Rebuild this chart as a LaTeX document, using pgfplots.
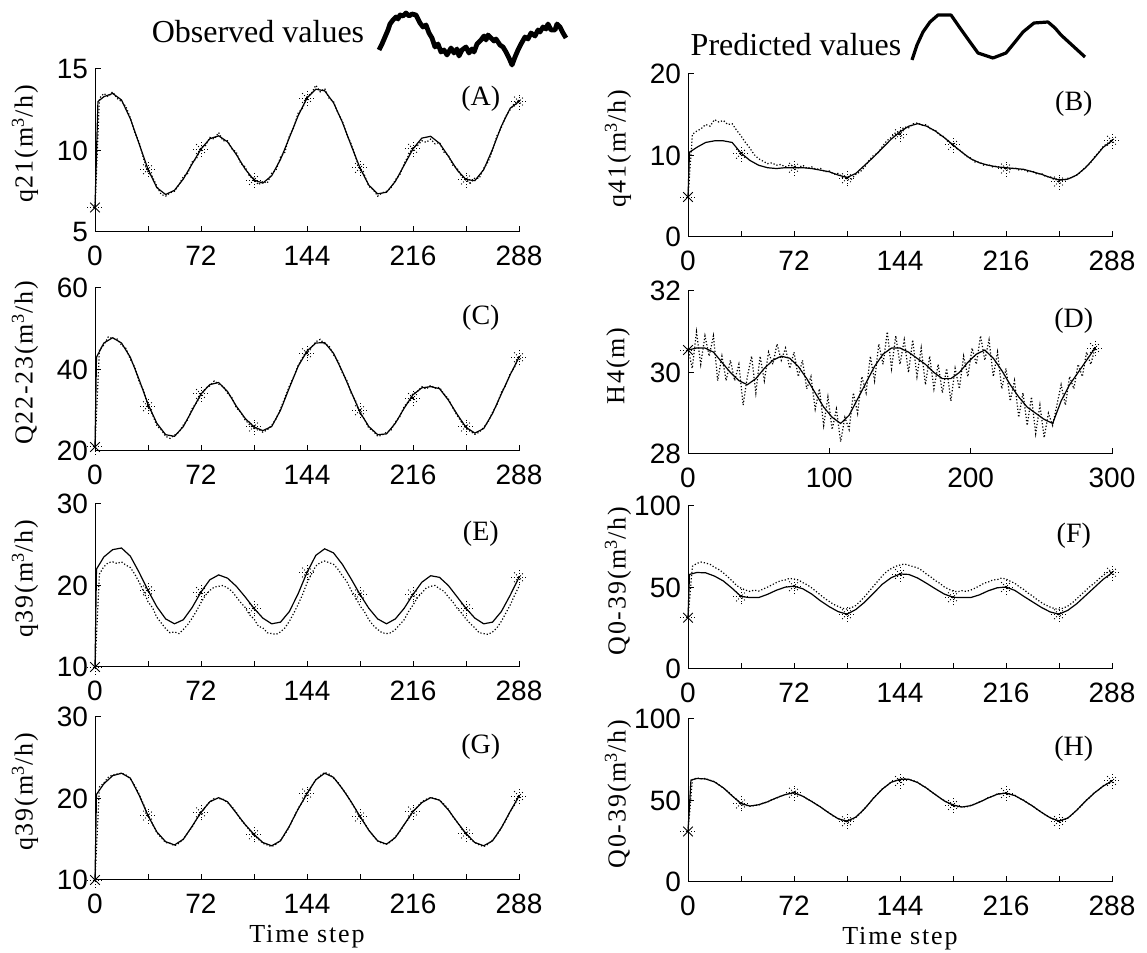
\documentclass[border=0pt]{standalone}
\usepackage{fontspec}
\setmainfont{Liberation Serif}
\setsansfont{Liberation Sans}
\newfontfamily\spacedserif[LetterSpace=7]{Liberation Serif}
\usepackage{pgfplots}
\pgfplotsset{compat=1.18}

% MATLAB-like asterisk: solid x plus dotted +
\pgfdeclareplotmark{mstar}{%
  \pgfpathmoveto{\pgfpoint{-0.6\pgfplotmarksize}{-0.6\pgfplotmarksize}}%
  \pgfpathlineto{\pgfpoint{0.6\pgfplotmarksize}{0.6\pgfplotmarksize}}%
  \pgfpathmoveto{\pgfpoint{-0.6\pgfplotmarksize}{0.6\pgfplotmarksize}}%
  \pgfpathlineto{\pgfpoint{0.6\pgfplotmarksize}{-0.6\pgfplotmarksize}}%
  \pgfusepathqstroke
  \pgfsetdash{{0.5pt}{0.9pt}}{0pt}%
  \pgfpathmoveto{\pgfpoint{-\pgfplotmarksize}{0pt}}%
  \pgfpathlineto{\pgfpoint{\pgfplotmarksize}{0pt}}%
  \pgfpathmoveto{\pgfpoint{0pt}{-\pgfplotmarksize}}%
  \pgfpathlineto{\pgfpoint{0pt}{\pgfplotmarksize}}%
  \pgfusepathqstroke
}

\newcommand\tickfont{\sffamily\fontsize{14}{14}\selectfont}
\newcommand\labfont{\spacedserif\fontsize{13}{14}\selectfont}
\newcommand\letfont{\rmfamily\fontsize{14}{15}\selectfont}

\pgfplotsset{
  panel/.style={
    scale only axis, width=212pt, height=81.5pt,
    axis x line*=bottom, axis y line*=left,
    axis line style={line width=0.5pt},
    tick align=inside, major tick length=3pt,
    tick style={black, line width=0.5pt},
    xmin=0, xmax=288, xtick={0,36,...,288},
    xticklabels={0,,72,,144,,216,,288},
    tick label style={font=\tickfont},
    xticklabel style={yshift=-3.5pt},
    /pgf/number format/assume math mode=true,
    ylabel style={at={(axis description cs:-0.165,0.54)}, anchor=center, font=\labfont},
    xlabel style={at={(axis description cs:0.5,-0.35)}, anchor=center, font=\labfont},
    clip=false,
  },
  pred/.style={black, line width=0.6pt, no markers},
  obs/.style={black, line width=0.6pt, densely dotted, no markers},
  mk/.style={only marks, mark=mstar, mark size=4pt, black, line width=0.45pt},
}

\begin{document}
\begin{tikzpicture}
\useasboundingbox (0,0) rectangle (573.5pt,476.5pt);

% ---------- (A) ----------
\begin{axis}[panel, at={(47.5pt,360.5pt)}, anchor=south west,
  ymin=5, ymax=15, ytick={5,10,15}, ylabel={q21(m\textsuperscript{3}/h)}]
\addplot[obs] coordinates {(0,6.4) (3,13.2) (6,13.5) (9,13.3) (12,13.6) (15,13.2) (18,13.0) (21,12.7) (24,12.0) (27,11.1) (30,10.5) (33,9.5) (36,8.7) (39,8.4) (42,7.8) (45,7.3) (48,7.2) (51,7.4) (54,7.5) (57,7.9) (60,8.4) (63,8.6) (66,9.3) (69,9.5) (72,10.2) (75,10.3) (78,10.8) (81,10.7) (84,11.1) (87,10.6) (90,10.6) (93,10.1) (96,9.9) (99,9.2) (102,9.0) (105,8.4) (108,8.3) (111,7.9) (114,8.1) (117,8.0) (120,8.6) (123,8.8) (126,9.6) (129,9.9) (132,10.9) (135,11.4) (138,12.3) (141,12.6) (144,13.3) (147,13.5) (150,14.0) (153,13.6) (156,13.8) (159,13.2) (162,13.0) (165,12.3) (168,11.8) (171,11.0) (174,10.4) (177,9.6) (180,8.8) (183,8.5) (186,7.8) (189,7.6) (192,7.2) (195,7.4) (198,7.5) (201,7.7) (204,8.2) (207,8.5) (210,9.2) (213,9.7) (216,10.2) (219,10.3) (222,10.6) (225,10.5) (228,10.7) (231,10.4) (234,10.5) (237,9.9) (240,9.7) (243,9.1) (246,8.9) (249,8.4) (252,8.2) (255,8.0) (258,8.3) (261,8.3) (264,8.9) (267,9.3) (270,10.0) (273,10.9) (276,11.4) (279,12.1) (282,12.5) (285,12.9) (288,13.1)};
\addplot[pred] coordinates {(0,6.5) (2,13.0) (6,13.3) (12,13.5) (18,13.1) (24,11.95) (30,10.4) (36,8.85) (42,7.72) (48,7.3) (54,7.56) (60,8.25) (66,9.18) (72,10.09) (78,10.72) (84,10.9) (90,10.53) (96,9.75) (102,8.86) (108,8.19) (114,8.0) (120,8.45) (126,9.45) (132,10.78) (138,12.14) (144,13.22) (150,13.76) (156,13.66) (162,12.93) (168,11.74) (174,10.31) (180,8.93) (186,7.87) (192,7.34) (198,7.44) (204,8.1) (210,9.1) (216,10.1) (222,10.76) (228,10.87) (234,10.44) (240,9.65) (246,8.8) (252,8.22) (258,8.15) (264,8.82) (270,10.07) (276,11.49) (282,12.59) (288,13.0)};
\addplot[mk] coordinates {(0,6.5) (36,8.85) (72,10.09) (108,8.19) (144,13.22) (180,8.93) (216,10.1) (252,8.22) (288,13.0)};
\node[font=\letfont] at (axis description cs:0.91,0.82) {(A)};
\end{axis}

% ---------- (B) ----------
\begin{axis}[panel, at={(344pt,358pt)}, anchor=south west,
  ymin=0, ymax=20, ytick={0,10,20}, ylabel={q41(m\textsuperscript{3}/h)}]
\addplot[obs] coordinates {(0,4.9) (3,12.6) (6,13.0) (9,13.3) (12,13.8) (15,13.6) (18,14.4) (21,14.1) (24,14.3) (27,13.8) (30,13.9) (33,13.1) (36,12.4) (39,11.6) (42,10.9) (45,10.1) (48,9.6) (51,9.3) (54,9.0) (57,9.1) (60,8.8) (63,8.9) (66,8.6) (69,8.8) (72,8.7) (75,8.5) (78,8.8) (81,8.4) (84,8.6) (87,8.3) (90,8.4) (93,8.0) (96,8.1) (99,7.7) (102,7.8) (105,7.3) (108,7.4) (111,7.1) (114,7.7) (117,8.0) (120,8.6) (123,9.4) (126,10.0) (129,10.3) (132,11.1) (135,11.8) (138,12.2) (141,12.8) (144,13.0) (147,13.5) (150,13.4) (153,13.9) (156,14.0) (159,13.7) (162,13.8) (165,13.2) (168,13.1) (171,12.5) (174,12.3) (177,11.6) (180,11.4) (183,10.8) (186,10.5) (189,9.9) (192,9.7) (195,9.2) (198,9.2) (201,8.8) (204,8.9) (207,8.6) (210,8.7) (213,8.4) (216,8.6) (219,8.3) (222,8.5) (225,8.2) (228,8.3) (231,8.0) (234,8.1) (237,7.7) (240,7.8) (243,7.4) (246,7.4) (249,7.0) (252,7.1) (255,6.9) (258,7.2) (261,7.3) (264,7.6) (267,8.0) (270,8.6) (273,9.0) (276,9.8) (279,10.4) (282,11.1) (285,11.5) (288,11.9)};
\addplot[pred] coordinates {(0,4.9) (1,10.4) (6,11.0) (12,11.6) (18,11.8) (24,11.8) (30,11.6) (36,10.3) (42,9.4) (48,8.8) (54,8.5) (60,8.4) (66,8.5) (72,8.5) (78,8.5) (84,8.4) (90,8.2) (96,8.0) (102,7.6) (108,7.3) (114,7.8) (120,8.8) (126,9.8) (132,10.9) (138,12.0) (144,12.9) (150,13.6) (156,13.9) (162,13.6) (168,13.0) (174,12.2) (180,11.3) (186,10.4) (192,9.6) (198,9.1) (204,8.8) (210,8.6) (216,8.5) (222,8.4) (228,8.3) (234,8.0) (240,7.7) (246,7.3) (252,7.0) (258,7.1) (264,7.6) (270,8.5) (276,9.7) (282,11.0) (288,11.8)};
\addplot[mk] coordinates {(0,4.9) (36,10.2) (72,8.5) (108,7.2) (144,12.6) (180,11.3) (216,8.4) (252,6.8) (288,11.8)};
\node[font=\letfont] at (axis description cs:0.91,0.82) {(B)};
\end{axis}

% ---------- (C) ----------
\begin{axis}[panel, at={(47.5pt,251pt)}, anchor=south west,
  ymin=20, ymax=60, ytick={20,40,60}, ylabel={Q22-23(m\textsuperscript{3}/h)}]
\addplot[obs] coordinates {(0,21) (3,44.8) (6,46) (9,48) (12,47.6) (15,47.5) (18,46) (21,45.2) (24,42.5) (27,40.6) (30,37) (33,34.8) (36,31) (39,29) (42,26.2) (45,25.2) (48,23.6) (51,23.1) (54,23.9) (57,24.6) (60,26.4) (63,27.7) (66,30.4) (69,31.9) (72,33.6) (75,35.4) (78,36) (81,37.2) (84,36.4) (87,35.9) (90,34.2) (93,33.1) (96,30.6) (99,29.5) (102,27.6) (105,26.5) (108,25.5) (111,25.4) (114,24.6) (117,25.2) (120,26.3) (123,27.9) (126,30.3) (129,33.1) (132,35.9) (135,38.2) (138,41) (141,42.9) (144,44.8) (147,45.4) (150,46.8) (153,47.4) (156,46.2) (159,45.8) (162,43.6) (165,42.1) (168,39.2) (171,37.4) (174,34.2) (177,32.3) (180,29.2) (183,27.8) (186,25.6) (189,24.9) (192,23.6) (195,23.9) (198,24.6) (201,25.1) (204,27.1) (207,28.4) (210,30.9) (213,32.2) (216,34.1) (219,34.6) (222,35.8) (225,35.2) (228,36.1) (231,35.4) (234,35.6) (237,34) (240,32.8) (243,30.6) (246,28.7) (249,27.1) (252,25.5) (255,24.8) (258,24.1) (261,24.6) (264,25.8) (267,27.1) (270,29.5) (273,31.3) (276,34.4) (279,36.1) (282,39) (285,40.6) (288,43.4)};
\addplot[pred] coordinates {(0,21) (1,43) (6,46.5) (12,47.8) (18,46.5) (24,43) (30,37.5) (36,31.5) (42,26.8) (48,24) (54,23.6) (60,26) (66,30) (72,34) (78,36.3) (84,36.8) (90,34.6) (96,31) (102,28) (108,25.9) (114,25) (120,26) (126,30) (132,35.5) (138,40.8) (144,44.5) (150,46.5) (156,46.6) (162,44) (168,39.5) (174,34.5) (180,29.5) (186,26) (192,24) (198,24.2) (204,26.8) (210,30.5) (216,33.8) (222,35.5) (228,35.8) (234,35.3) (240,32.5) (246,29) (252,25.8) (258,24.4) (264,25.5) (270,29.2) (276,34) (282,38.7) (288,43)};
\addplot[mk] coordinates {(0,21) (36,31) (72,34) (108,26) (144,44) (180,30) (216,33) (252,26) (288,43)};
\node[font=\letfont] at (axis description cs:0.91,0.82) {(C)};
\end{axis}

% ---------- (D) ----------
\begin{axis}[panel, at={(344pt,249.5pt)}, anchor=south west,
  xmax=300, xtick={0,100,200,300}, xticklabels={0,100,200,300},
  ymin=28, ymax=32, ytick={28,30,32}, ylabel={H4(m)}]
\addplot[obs] coordinates {(0,30.6) (3,30.1) (6,31.0) (9,30.2) (12,30.9) (15,30.4) (18,30.9) (21,29.8) (24,30.4) (27,29.8) (30,30.3) (33,29.8) (36,30.2) (39,29.2) (42,29.9) (45,30.4) (48,29.5) (51,30.4) (54,29.8) (57,30.5) (60,30.2) (63,30.7) (66,30.3) (69,30.6) (72,30.1) (75,30.5) (78,29.9) (81,30.3) (84,29.6) (87,29.9) (90,29.1) (93,29.6) (96,28.7) (99,29.4) (102,28.6) (105,29.1) (108,28.3) (111,28.9) (114,28.6) (117,29.5) (120,29.0) (123,29.9) (126,29.5) (129,30.4) (132,29.8) (135,30.7) (138,30.2) (141,31.0) (144,30.1) (147,30.9) (150,30.2) (153,30.8) (156,30.0) (159,30.8) (162,29.9) (165,30.6) (168,29.7) (171,30.4) (174,29.6) (177,30.2) (180,29.5) (183,30.1) (186,29.3) (189,30.1) (192,29.6) (195,30.4) (198,29.9) (201,30.6) (204,30.2) (207,30.9) (210,30.3) (213,30.8) (216,29.9) (219,30.5) (222,29.6) (225,30.1) (228,29.3) (231,29.8) (234,28.9) (237,29.5) (240,28.7) (243,29.4) (246,28.5) (249,29.2) (252,28.4) (255,29.0) (258,28.7) (261,29.2) (264,29.7) (267,29.2) (270,29.9) (273,29.6) (276,30.2) (279,29.9) (282,30.5) (285,30.2) (288,30.6)};
\addplot[pred] coordinates {(0,30.55) (6,30.6) (12,30.6) (18,30.5) (24,30.25) (30,30.0) (36,29.8) (42,29.7) (48,29.85) (54,30.1) (60,30.3) (66,30.4) (72,30.35) (78,30.15) (84,29.85) (90,29.5) (96,29.15) (102,28.9) (108,28.75) (114,28.95) (120,29.35) (126,29.75) (132,30.15) (138,30.45) (144,30.6) (150,30.6) (156,30.5) (162,30.35) (168,30.2) (174,30.0) (180,29.85) (186,29.85) (192,30.0) (198,30.25) (204,30.45) (210,30.55) (216,30.35) (222,30.05) (228,29.7) (234,29.4) (240,29.15) (246,29.0) (252,28.85) (258,28.75) (264,29.3) (270,29.7) (276,30.0) (282,30.3) (288,30.6)};
\addplot[mk] coordinates {(0,30.55) (288,30.6)};
\node[font=\letfont] at (axis description cs:0.91,0.82) {(D)};
\end{axis}

% ---------- (E) ----------
\begin{axis}[panel, at={(47.5pt,143pt)}, anchor=south west,
  ymin=10, ymax=30, ytick={10,20,30}, ylabel={q39(m\textsuperscript{3}/h)}]
\addplot[obs] coordinates {(0,10) (3,21.4) (6,22.3) (9,22.8) (12,22.9) (15,22.7) (18,22.9) (21,22.5) (24,22.2) (27,21.4) (30,20.4) (33,19.3) (36,18.0) (39,17.3) (42,16.1) (45,15.4) (48,14.7) (51,14.2) (54,14.3) (57,14.1) (60,14.6) (63,15.2) (66,16.0) (69,16.9) (72,17.9) (75,18.8) (78,19.4) (81,19.8) (84,19.9) (87,20.0) (90,19.7) (93,19.3) (96,18.6) (99,17.9) (102,17.3) (105,16.4) (108,15.9) (111,15.0) (114,14.8) (117,14.2) (120,14.1) (123,14.0) (126,14.3) (129,14.8) (132,15.6) (135,16.6) (138,17.7) (141,18.9) (144,20.3) (147,21.4) (150,22.4) (153,22.8) (156,23.0) (159,22.8) (162,22.6) (165,22.0) (168,21.2) (171,20.5) (174,19.4) (177,18.6) (180,17.5) (183,16.8) (186,15.8) (189,15.1) (192,14.6) (195,14.2) (198,14.1) (201,14.2) (204,14.6) (207,15.2) (210,15.8) (213,16.8) (216,17.6) (219,18.5) (222,19.1) (225,19.7) (228,19.9) (231,20.0) (234,19.6) (237,19.3) (240,18.6) (243,18.0) (246,17.2) (249,16.6) (252,15.9) (255,15.3) (258,14.8) (261,14.2) (264,14.1) (267,14.0) (270,14.3) (273,14.8) (276,15.6) (279,16.6) (282,17.6) (285,18.8) (288,19.9)};
\addplot[pred] coordinates {(0,10) (1,22.0) (6,23.5) (12,24.4) (18,24.6) (24,23.6) (30,21.6) (36,19.4) (42,17.4) (48,15.9) (54,15.3) (60,15.8) (66,17.3) (72,19.2) (78,20.7) (84,21.3) (90,20.9) (96,19.9) (102,18.6) (108,17.2) (114,16.0) (120,15.3) (126,15.5) (132,16.8) (138,19.0) (144,21.6) (150,23.7) (156,24.5) (162,24.0) (168,22.6) (174,20.8) (180,18.9) (186,17.2) (192,15.9) (198,15.3) (204,15.9) (210,17.2) (216,18.9) (222,20.4) (228,21.2) (234,21.0) (240,20.0) (246,18.6) (252,17.2) (258,16.0) (264,15.3) (270,15.5) (276,16.8) (282,18.8) (288,21.0)};
\addplot[mk] coordinates {(0,10) (36,19.4) (72,19.2) (108,17.2) (144,21.6) (180,18.9) (216,18.9) (252,17.2) (288,21.0)};
\node[font=\letfont] at (axis description cs:0.91,0.82) {(E)};
\end{axis}

% ---------- (F) ----------
\begin{axis}[panel, at={(344pt,142pt)}, anchor=south west,
  ymin=0, ymax=100, ytick={0,50,100}, ylabel={Q0-39(m\textsuperscript{3}/h)}]
\addplot[obs] coordinates {(0,31.5) (3,63.0) (6,64.8) (9,65.6) (12,65.0) (15,64.2) (18,62.4) (21,61.0) (24,59.0) (27,56.6) (30,54.0) (33,51.2) (36,49.6) (39,48.4) (42,47.6) (45,48.4) (48,47.8) (51,49.0) (54,50.2) (57,51.6) (60,53.0) (63,54.2) (66,54.6) (69,55.6) (72,55.2) (75,54.6) (78,53.0) (81,51.6) (84,49.8) (87,47.6) (90,45.4) (93,43.2) (96,41.4) (99,39.6) (102,38.4) (105,37.2) (108,36.8) (111,37.6) (114,39.0) (117,41.6) (120,44.4) (123,47.6) (126,50.8) (129,54.0) (132,57.2) (135,59.8) (138,61.6) (141,63.0) (144,63.8) (147,64.4) (150,63.6) (153,62.8) (156,62.0) (159,60.4) (162,58.2) (165,56.4) (168,54.2) (171,52.6) (174,50.4) (177,49.0) (180,47.8) (183,47.4) (186,48.0) (189,47.6) (192,48.4) (195,49.6) (198,51.0) (201,52.6) (204,53.4) (207,54.6) (210,54.8) (213,55.8) (216,55.2) (219,53.8) (222,52.6) (225,50.4) (228,48.8) (231,46.6) (234,44.8) (237,42.6) (240,40.8) (243,39.2) (246,38.0) (249,37.0) (252,36.6) (255,37.4) (258,38.6) (261,40.6) (264,43.0) (267,45.6) (270,48.0) (273,50.6) (276,52.6) (279,55.2) (282,57.4) (285,59.4) (288,60.6)};
\addplot[pred] coordinates {(0,31.5) (1,58.0) (6,59.2) (12,59.0) (18,57.0) (24,54.0) (30,49.5) (36,44.5) (42,43.8) (48,43.8) (54,45.8) (60,48.3) (66,50.2) (72,50.8) (78,49.2) (84,46.0) (90,41.8) (96,38.2) (102,35.2) (108,33.6) (114,36.5) (120,41.0) (126,46.5) (132,52.0) (138,56.0) (144,58.3) (150,58.0) (156,55.8) (162,52.6) (168,49.2) (174,46.0) (180,44.0) (186,43.8) (192,43.8) (198,45.5) (204,48.0) (210,49.8) (216,50.3) (222,48.2) (228,44.6) (234,41.2) (240,37.8) (246,35.0) (252,33.6) (258,36.0) (264,40.0) (270,45.0) (276,50.0) (282,55.0) (288,59.0)};
\addplot[mk] coordinates {(0,31.5) (36,44.5) (72,50.8) (108,33.6) (144,58.3) (180,44.0) (216,50.3) (252,33.6) (288,59.0)};
\node[font=\letfont] at (axis description cs:0.91,0.82) {(F)};
\end{axis}

% ---------- (G) ----------
\begin{axis}[panel, at={(47.5pt,36.5pt)}, anchor=south west,
  ymin=10, ymax=30, ytick={10,20,30}, ylabel={q39(m\textsuperscript{3}/h)}, xlabel={Time step}]
\addplot[obs] coordinates {(0,10) (3,21.4) (6,21.9) (9,22.6) (12,22.9) (15,23.0) (18,23.1) (21,22.9) (24,22.4) (27,21.6) (30,20.5) (33,19.3) (36,17.9) (39,16.9) (42,15.8) (45,15.2) (48,14.6) (51,14.5) (54,14.2) (57,14.5) (60,15.0) (63,15.8) (66,16.5) (69,17.5) (72,18.2) (75,19.0) (78,19.6) (81,20.0) (84,20.0) (87,19.9) (90,19.5) (93,19.0) (96,18.3) (99,17.4) (102,16.8) (105,16.1) (108,15.5) (111,15.0) (114,14.5) (117,14.3) (120,14.1) (123,14.4) (126,14.9) (129,15.6) (132,16.5) (135,17.7) (138,18.8) (141,19.6) (144,20.6) (147,21.5) (150,22.3) (153,22.8) (156,23.2) (159,23.0) (162,22.5) (165,22.0) (168,21.2) (171,20.5) (174,19.5) (177,18.7) (180,17.7) (183,17.0) (186,16.1) (189,15.4) (192,14.8) (195,14.5) (198,14.4) (201,14.7) (204,15.3) (207,15.9) (210,16.8) (213,17.5) (216,18.4) (219,19.0) (222,19.6) (225,19.9) (228,20.1) (231,20.0) (234,19.8) (237,19.3) (240,18.7) (243,17.8) (246,17.1) (249,16.3) (252,15.7) (255,15.0) (258,14.6) (261,14.3) (264,14.1) (267,14.4) (270,14.9) (273,15.5) (276,16.4) (279,17.3) (282,18.4) (285,19.2) (288,20.4)};
\addplot[pred] coordinates {(0,10) (1,20.5) (6,21.8) (12,22.8) (18,23.1) (24,22.5) (30,20.4) (36,17.9) (42,15.9) (48,14.7) (54,14.3) (60,15.0) (66,16.6) (72,18.3) (78,19.6) (84,20.1) (90,19.6) (96,18.2) (102,16.8) (108,15.6) (114,14.6) (120,14.2) (126,14.8) (132,16.6) (138,18.7) (144,20.6) (150,22.3) (156,23.1) (162,22.6) (168,21.2) (174,19.6) (180,17.8) (186,16.1) (192,14.8) (198,14.4) (204,15.2) (210,16.8) (216,18.4) (222,19.5) (228,20.1) (234,19.8) (240,18.6) (246,17.1) (252,15.7) (258,14.6) (264,14.2) (270,14.8) (276,16.4) (282,18.4) (288,20.3)};
\addplot[mk] coordinates {(0,10) (36,17.9) (72,18.3) (108,15.6) (144,20.6) (180,17.8) (216,18.4) (252,15.7) (288,20.3)};
\node[font=\letfont] at (axis description cs:0.91,0.82) {(G)};
\end{axis}

% ---------- (H) ----------
\begin{axis}[panel, at={(344pt,35.5pt)}, anchor=south west,
  ymin=0, ymax=100, ytick={0,50,100}, ylabel={Q0-39(m\textsuperscript{3}/h)}, xlabel={Time step}]
\addplot[obs] coordinates {(0,31) (3,62.8) (6,63.8) (9,63.4) (12,63.5) (15,62.4) (18,61.6) (21,59.6) (24,57.6) (27,55.6) (30,53.0) (33,50.4) (36,48.0) (39,47.2) (42,46.4) (45,46.9) (48,47.2) (51,48.4) (54,49.0) (57,50.6) (60,51.4) (63,52.8) (66,53.4) (69,54.6) (72,55.2) (75,53.6) (78,52.8) (81,50.8) (84,49.6) (87,47.6) (90,46.2) (93,44.0) (96,42.4) (99,40.2) (102,39.0) (105,37.6) (108,37.0) (111,38.0) (114,39.6) (117,42.0) (120,45.2) (123,48.0) (126,51.6) (129,54.2) (132,57.2) (135,59.0) (138,61.4) (141,62.2) (144,63.2) (147,63.4) (150,62.8) (153,62.2) (156,61.2) (159,59.2) (162,57.8) (165,55.4) (168,53.8) (171,51.6) (174,50.0) (177,48.2) (180,47.4) (183,46.2) (186,46.2) (189,46.0) (192,47.0) (195,47.8) (198,49.2) (201,50.2) (204,51.8) (207,52.6) (210,54.0) (213,54.2) (216,54.8) (219,53.8) (222,53.2) (225,51.4) (228,50.2) (231,48.2) (234,46.8) (237,44.6) (240,43.0) (243,40.8) (246,39.6) (249,38.0) (252,37.6) (255,37.8) (258,39.4) (261,41.4) (264,44.2) (267,46.6) (270,49.8) (273,52.0) (276,54.8) (279,56.6) (282,59.0) (285,60.4) (288,62.2)};
\addplot[pred] coordinates {(0,31) (2,62.5) (6,63.5) (12,63.2) (18,61.4) (24,57.8) (30,52.8) (36,48.2) (42,46.6) (48,47.4) (54,49.2) (60,51.6) (66,53.6) (72,54.8) (78,52.6) (84,49.4) (90,46.0) (96,42.2) (102,38.8) (108,37.3) (114,39.8) (120,45.0) (126,51.4) (132,57.0) (138,61.2) (144,63.0) (150,63.0) (156,61.0) (162,57.6) (168,53.6) (174,49.8) (180,47.2) (186,46.0) (192,46.8) (198,49.0) (204,51.6) (210,53.8) (216,54.6) (222,53.0) (228,50.0) (234,46.6) (240,42.8) (246,39.4) (252,37.4) (258,39.2) (264,44.0) (270,49.6) (276,54.6) (282,58.8) (288,62.0)};
\addplot[mk] coordinates {(0,31) (36,48.2) (72,54.8) (108,37.3) (144,62.0) (180,47.2) (216,54.6) (252,37.4) (288,62.0)};
\node[font=\letfont] at (axis description cs:0.91,0.82) {(H)};
\end{axis}

% ---------- legend samples (picture coordinates in px) ----------
\begin{axis}[at={(0pt,0pt)}, anchor=south west, scale only axis,
  width=573.5pt, height=476.5pt, xmin=0, xmax=1147, ymin=0, ymax=953,
  y dir=reverse, hide axis, clip=false]
\addplot[black, line width=2.4pt, line join=round] coordinates {(379,50) (382,44) (385,37) (388,30) (390,24) (393,20) (396,17) (398,19) (400,15) (403,16) (406,13) (409,16) (412,14) (416,15) (418,19) (420,23) (423,27) (426,25) (429,33) (432,38) (435,47) (438,44) (441,52) (444,50) (447,55) (451,48) (454,53) (457,49) (459,56) (462,50) (466,47) (469,53) (472,49) (474,52) (477,44) (481,40) (484,36) (486,40) (488,35) (491,38) (494,41) (496,39) (500,45) (503,47) (506,52) (509,58) (512,65) (515,57) (518,50) (521,44) (525,37) (528,39) (531,33) (535,36) (538,30) (540,32) (543,27) (546,29) (548,24) (551,30) (555,30) (557,24) (560,27) (563,33) (566,38)};
\addplot[black, line width=1.6pt, line join=round] coordinates {(912,60) (917,45) (923,32) (930,22) (938,15) (951,15) (960,28) (970,42) (978,53) (993,58) (1006,53) (1015,42) (1023,32) (1034,23) (1048,22) (1055,28) (1061,35) (1073,46) (1085,57)};
\node[font=\rmfamily\fontsize{16}{18}\selectfont] at (axis cs:258,32) {Observed values};
\node[font=\rmfamily\fontsize{16}{18}\selectfont] at (axis cs:796,45) {Predicted values};
\end{axis}
\end{tikzpicture}
\end{document}
